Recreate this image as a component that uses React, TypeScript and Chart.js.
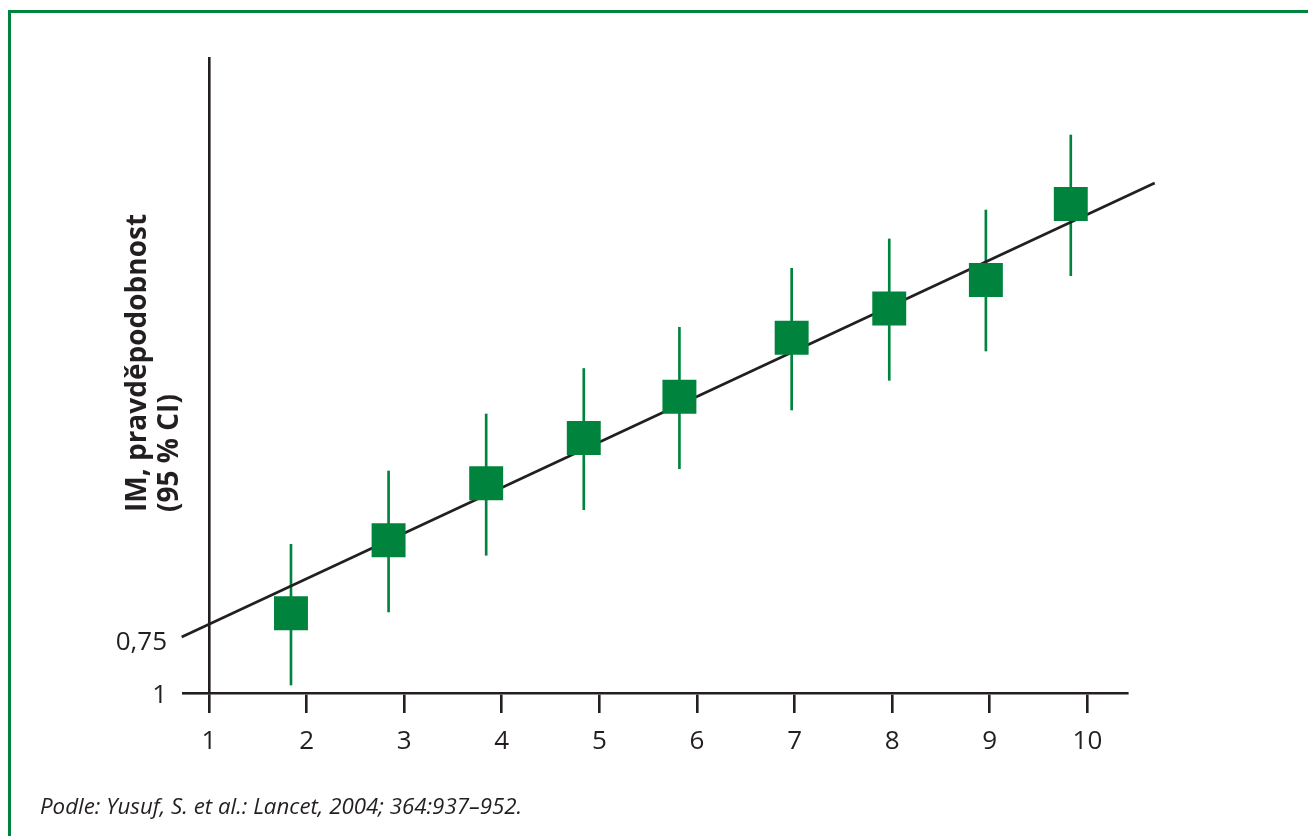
import React, { useEffect, useRef } from 'react';
import { Chart, registerables } from 'chart.js';

Chart.register(...registerables);

// ---- data ----
const xTickValues = [1, 2, 3, 4, 5, 6, 7, 8, 9, 10];
const xTickLabels = ['1', '2', '3', '4', '5', '6', '7', '8', '9', '10'];
const yTickValues = [0, 8.4];
const yTickLabels = ['1', '0,75'];

const pointX = [1.84, 2.84, 3.84, 4.84, 5.82, 6.97, 7.97, 8.96, 9.83];
const pointY = [12.55, 24.05, 33.02, 40.16, 46.65, 55.95, 60.55, 65.04, 77.01];
const ciLow = [1.26, 12.76, 21.69, 28.87, 35.32, 44.57, 49.24, 53.86, 65.72];
const ciHigh = [23.42, 34.96, 43.94, 51.1, 57.59, 66.88, 71.5, 76.06, 87.87];

const trendX = [0.72, 10.69];
const trendY = [8.82, 80.31];

const yTitleLines = ['IM, pravděpodobnost', '(95 % CI)'];
const sourceNote = 'Podle: Yusuf, S. et al.: Lancet, 2004; 364:937–952.';

// ---- styles ----
const GREEN = '#00843d';
const DARK = '#231f20';
const FONT = '"Open Sans", "Noto Sans", sans-serif';

const yTitlePlugin = {
  id: 'yTitleRotated',
  afterDraw(chart: any) {
    const ctx = chart.ctx;
    ctx.save();
    ctx.fillStyle = DARK;
    ctx.font = `bold 28px ${FONT}`;
    ctx.textAlign = 'left';
    ctx.textBaseline = 'alphabetic';
    const startY = 512;
    const baseX = [146, 178];
    yTitleLines.forEach((line, i) => {
      ctx.save();
      ctx.translate(baseX[i], startY);
      ctx.rotate(-Math.PI / 2);
      ctx.fillText(line, 0, 0);
      ctx.restore();
    });
    ctx.restore();
  },
};

export default function App() {
  const canvasRef = useRef<HTMLCanvasElement | null>(null);

  useEffect(() => {
    if (!canvasRef.current) return;
    const chart = new Chart(canvasRef.current, {
      type: 'scatter',
      data: {
        datasets: [
          {
            type: 'scatter',
            label: 'IM',
            data: pointX.map((x, i) => ({ x, y: pointY[i] })),
            pointStyle: 'rect',
            pointRadius: 24,
            pointHoverRadius: 24,
            backgroundColor: GREEN,
            borderWidth: 0,
            order: 1,
          } as any,
          {
            type: 'line',
            label: 'trend',
            data: trendX.map((x, i) => ({ x, y: trendY[i] })),
            borderColor: DARK,
            borderWidth: 2.6,
            pointRadius: 0,
            fill: false,
            clip: false,
            order: 2,
          } as any,
          {
            type: 'bar',
            label: 'CI',
            data: pointX.map((x, i) => ({ x, y: [ciLow[i], ciHigh[i]] })),
            backgroundColor: GREEN,
            borderWidth: 0,
            barThickness: 2,
            order: 3,
          } as any,
        ],
      },
      options: {
        animation: false,
        responsive: false,
        devicePixelRatio: 1,
        layout: { padding: { left: 89, right: 181, top: 58, bottom: 63 } },
        plugins: {
          legend: { display: false },
          tooltip: { enabled: false },
          title: { display: false },
        },
        scales: {
          x: {
            type: 'linear',
            min: 1,
            max: 10.406,
            offset: false,
            afterBuildTicks: (scale: any) => {
              scale.ticks = xTickValues.map((v) => ({ value: v }));
            },
            afterFit: (scale: any) => {
              scale.height = 80;
            },
            border: { display: true, color: DARK, width: 2.6 },
            grid: {
              display: true,
              offset: false,
              drawOnChartArea: false,
              drawTicks: true,
              tickLength: 20,
              color: DARK,
              tickColor: DARK,
              lineWidth: 2.6,
              tickWidth: 2.6,
            },
            ticks: {
              autoSkip: false,
              maxRotation: 0,
              padding: 13,
              color: DARK,
              font: { family: FONT, size: 26 },
              callback: (_v: any, i: number) => xTickLabels[i],
            },
          },
          y: {
            type: 'linear',
            min: 0,
            max: 100,
            afterBuildTicks: (scale: any) => {
              scale.ticks = yTickValues.map((v) => ({ value: v }));
            },
            afterFit: (scale: any) => {
              scale.width = 120;
            },
            border: { display: true, color: DARK, width: 2.6 },
            grid: {
              display: true,
              drawOnChartArea: false,
              drawTicks: true,
              tickLength: 27,
              color: (ctx: any) => (ctx.tick && ctx.tick.value === yTickValues[0] ? DARK : 'rgba(0,0,0,0)'),
              lineWidth: 2.6,
              tickWidth: 2.6,
            },
            ticks: {
              autoSkip: false,
              padding: 15,
              labelOffset: 3,
              color: DARK,
              font: { family: FONT, size: 26 },
              callback: (_v: any, i: number) => yTickLabels[i],
            },
          },
        },
      },
      plugins: [yTitlePlugin],
    });
    return () => chart.destroy();
  }, []);

  return (
    <div
      style={{
        position: 'absolute',
        left: 0,
        top: 0,
        width: 1308,
        height: 836,
        overflow: 'hidden',
        background: '#ffffff',
      }}
    >
      <div
        style={{
          position: 'absolute',
          left: 8,
          top: 10,
          width: 1400,
          height: 900,
          borderTop: `3px solid ${GREEN}`,
          borderLeft: `3px solid ${GREEN}`,
          boxSizing: 'border-box',
        }}
      />
      <canvas
        ref={canvasRef}
        width={1308}
        height={836}
        style={{ position: 'absolute', left: 0, top: 0, width: 1308, height: 836 }}
      />
      <div
        style={{
          position: 'absolute',
          left: 40,
          top: 791,
          fontFamily: FONT,
          fontStyle: 'italic',
          fontSize: 22.3,
          lineHeight: '30px',
          color: DARK,
          whiteSpace: 'nowrap',
        }}
      >
        {sourceNote}
      </div>
    </div>
  );
}
